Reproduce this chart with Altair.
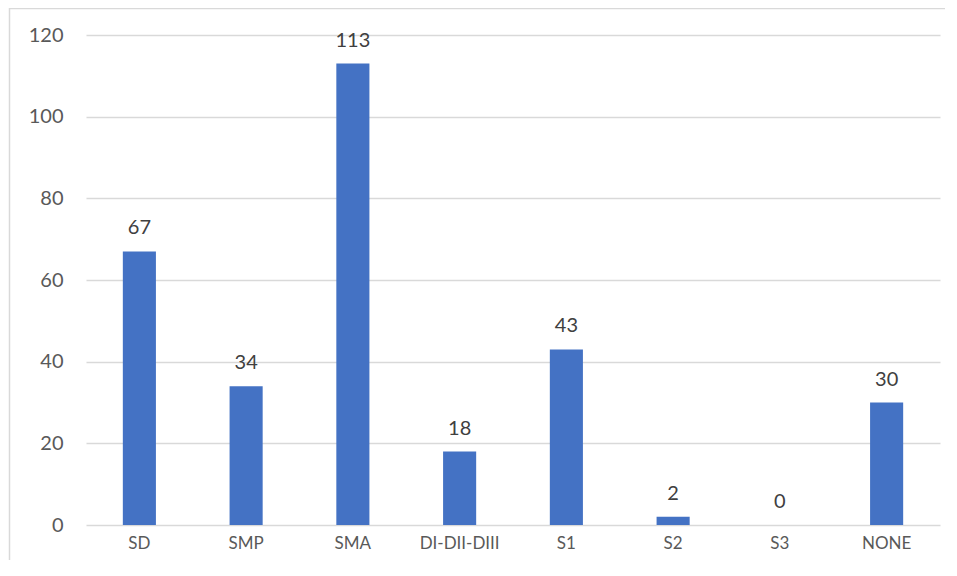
import altair as alt
import pandas as pd

categories = ["SD", "SMP", "SMA", "DI-DII-DIII", "S1", "S2", "S3", "NONE"]
values = [67, 34, 113, 18, 43, 2, 0, 30]

df = pd.DataFrame({"cat": categories, "val": values})

W, H = 854, 490
FONT = "Lato"

x_enc = alt.X("cat:N", sort=categories, title=None,
              scale=alt.Scale(paddingInner=0.69, paddingOuter=0.345),
              axis=alt.Axis(labelAngle=0, labelFont=FONT, labelFontSize=17,
                            labelColor="#595959", labelPadding=10,
                            domain=False, ticks=False, grid=False))
y_enc = alt.Y("val:Q", title=None,
              scale=alt.Scale(domain=[0, 120], nice=False),
              axis=alt.Axis(values=[0, 20, 40, 60, 80, 100, 120],
                            labelFont=FONT, labelFontSize=20,
                            labelColor="#595959", labelPadding=23,
                            domain=False, ticks=False, grid=True,
                            gridColor="#d9d9d9", gridWidth=1.3))

base = alt.Chart(df)

bars = base.mark_bar(color="#4472C4").encode(x=x_enc, y=y_enc)

labels = base.mark_text(font=FONT, fontSize=20, color="#404040",
                        baseline="alphabetic", align="center", dy=-17).encode(
    x=alt.X("cat:N", sort=categories),
    y=alt.Y("val:Q"),
    text=alt.Text("val:Q"),
)

frame_df = pd.DataFrame({"k": [0]})
frame_left = alt.Chart(frame_df).mark_rule(color="#d9d9d9", strokeWidth=1.5).encode(
    x=alt.value(-76.5), y=alt.value(-27), y2=alt.value(H + 40))
frame_top = alt.Chart(frame_df).mark_rule(color="#d9d9d9", strokeWidth=1.5).encode(
    x=alt.value(-77), x2=alt.value(W + 20), y=alt.value(-26.5))

chart = alt.layer(bars, labels, frame_left, frame_top).properties(
    width=W, height=H,
    background="white",
    autosize=alt.AutoSizeParams(type="none"),
    padding={"left": 78, "top": 27, "right": 5, "bottom": 35},
).configure_view(stroke="transparent", strokeWidth=0)

chart.save("out.html", embed_options={"renderer": "svg", "actions": False})
